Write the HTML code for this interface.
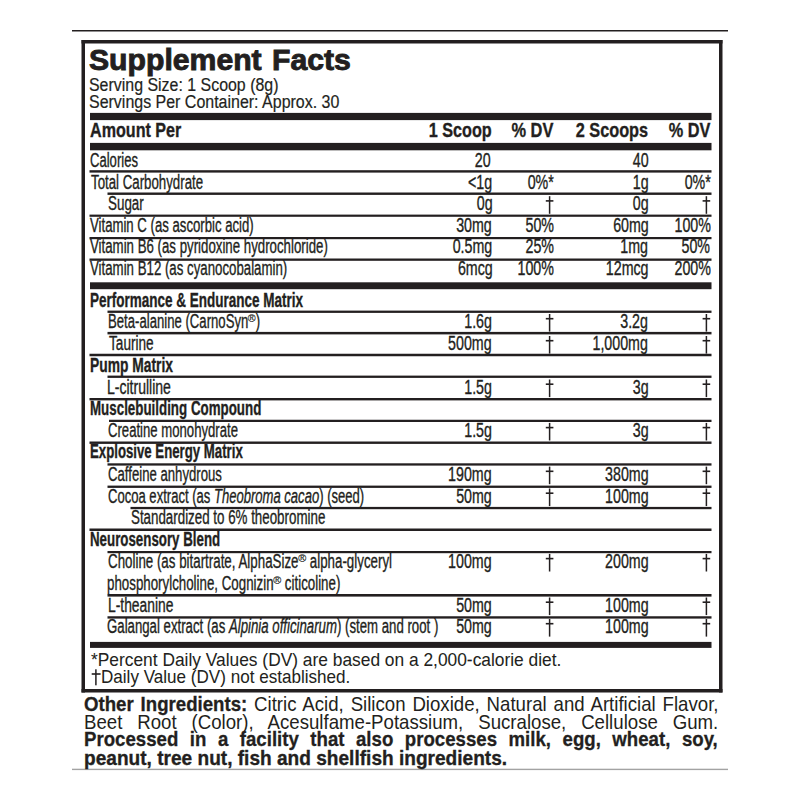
<!DOCTYPE html><html><head><meta charset="utf-8"><style>
html,body{margin:0;padding:0;background:#fff;width:800px;height:800px;overflow:hidden;position:relative}
.r{position:absolute;background:#231f20}
.t{position:absolute;white-space:nowrap;font-family:"Liberation Sans", sans-serif;color:#231f20;line-height:40px;height:40px;-webkit-text-stroke:0.35px #231f20}
.t sup{font-size:58%;vertical-align:0;position:relative;top:-0.5em;line-height:0;-webkit-text-stroke-width:0.2px;display:inline-block;transform:scaleX(1.4);margin:0 1.6px 0 1.2px}
.j{position:absolute;font-family:"Liberation Sans", sans-serif;color:#231f20;line-height:40px;height:40px;text-align:justify;text-align-last:justify;transform-origin:0 0;white-space:nowrap}
.j b{-webkit-text-stroke:0.3px #231f20}
</style></head><body>
<svg width="800" height="800" style="position:absolute;left:0;top:0">
<rect x="72" y="30" width="656" height="1.5" fill="#231f20"/>
<rect x="72" y="768.7" width="656" height="1.4" fill="#a3a3a3"/>
<rect x="81.5" y="40" width="641.0" height="3.5" fill="#231f20"/>
<rect x="81.5" y="689.0" width="641.0" height="3.5" fill="#231f20"/>
<rect x="81.5" y="40" width="3.5" height="652.5" fill="#231f20"/>
<rect x="719.0" y="40" width="3.5" height="652.5" fill="#231f20"/>
<rect x="90" y="112.9" width="621.5" height="7.2" fill="#231f20"/>
<rect x="90" y="142.9" width="621.5" height="7.4" fill="#231f20"/>
<rect x="90" y="282.3" width="621.5" height="6.9" fill="#231f20"/>
<rect x="90" y="641.9" width="621.5" height="6.0" fill="#231f20"/>
<rect x="89.5" y="170.2" width="622.0" height="2.4" fill="#231f20"/>
<rect x="107.5" y="192.5" width="604.0" height="2.4" fill="#231f20"/>
<rect x="89.5" y="214.6" width="622.0" height="2.2" fill="#231f20"/>
<rect x="89.5" y="237" width="622.0" height="2.2" fill="#231f20"/>
<rect x="89.5" y="258.5" width="622.0" height="2.3" fill="#231f20"/>
<rect x="107.5" y="310.6" width="604.0" height="2.3" fill="#231f20"/>
<rect x="107.5" y="331.9" width="604.0" height="2.5" fill="#231f20"/>
<rect x="89.5" y="353.75" width="622.0" height="2.5" fill="#231f20"/>
<rect x="107.5" y="375.6" width="604.0" height="2.3" fill="#231f20"/>
<rect x="89.5" y="398" width="622.0" height="2.4" fill="#231f20"/>
<rect x="109.0" y="419.75" width="602.5" height="2.25" fill="#231f20"/>
<rect x="89.5" y="441.5" width="622.0" height="2.4" fill="#231f20"/>
<rect x="107.5" y="463.3" width="604.0" height="2.3" fill="#231f20"/>
<rect x="107.5" y="485.6" width="604.0" height="2.3" fill="#231f20"/>
<rect x="130.5" y="506.9" width="581.0" height="2.3" fill="#231f20"/>
<rect x="89.5" y="528.5" width="622.0" height="2.5" fill="#231f20"/>
<rect x="107.5" y="551" width="604.0" height="2.2" fill="#231f20"/>
<rect x="107.5" y="594" width="604.0" height="2.6" fill="#231f20"/>
<rect x="107.5" y="616.25" width="604.0" height="2.35" fill="#231f20"/>
<rect x="548.85" y="196.2" width="1.5" height="17.6" fill="#231f20"/>
<rect x="545.8" y="200.1" width="7.6" height="1.6" fill="#231f20"/>
<rect x="705.65" y="196.2" width="1.5" height="17.6" fill="#231f20"/>
<rect x="702.6" y="200.1" width="7.6" height="1.6" fill="#231f20"/>
<rect x="548.85" y="314" width="1.5" height="17.6" fill="#231f20"/>
<rect x="545.8" y="317.9" width="7.6" height="1.6" fill="#231f20"/>
<rect x="705.65" y="314" width="1.5" height="17.6" fill="#231f20"/>
<rect x="702.6" y="317.9" width="7.6" height="1.6" fill="#231f20"/>
<rect x="548.85" y="336" width="1.5" height="17.6" fill="#231f20"/>
<rect x="545.8" y="339.9" width="7.6" height="1.6" fill="#231f20"/>
<rect x="705.65" y="336" width="1.5" height="17.6" fill="#231f20"/>
<rect x="702.6" y="339.9" width="7.6" height="1.6" fill="#231f20"/>
<rect x="548.85" y="379.5" width="1.5" height="17.6" fill="#231f20"/>
<rect x="545.8" y="383.4" width="7.6" height="1.6" fill="#231f20"/>
<rect x="705.65" y="379.5" width="1.5" height="17.6" fill="#231f20"/>
<rect x="702.6" y="383.4" width="7.6" height="1.6" fill="#231f20"/>
<rect x="548.85" y="422.9" width="1.5" height="17.6" fill="#231f20"/>
<rect x="545.8" y="426.8" width="7.6" height="1.6" fill="#231f20"/>
<rect x="705.65" y="422.9" width="1.5" height="17.6" fill="#231f20"/>
<rect x="702.6" y="426.8" width="7.6" height="1.6" fill="#231f20"/>
<rect x="548.85" y="466.6" width="1.5" height="17.6" fill="#231f20"/>
<rect x="545.8" y="470.5" width="7.6" height="1.6" fill="#231f20"/>
<rect x="705.65" y="466.6" width="1.5" height="17.6" fill="#231f20"/>
<rect x="702.6" y="470.5" width="7.6" height="1.6" fill="#231f20"/>
<rect x="548.85" y="488.5" width="1.5" height="17.6" fill="#231f20"/>
<rect x="545.8" y="492.4" width="7.6" height="1.6" fill="#231f20"/>
<rect x="705.65" y="488.5" width="1.5" height="17.6" fill="#231f20"/>
<rect x="702.6" y="492.4" width="7.6" height="1.6" fill="#231f20"/>
<rect x="548.85" y="553.9" width="1.5" height="17.6" fill="#231f20"/>
<rect x="545.8" y="557.8" width="7.6" height="1.6" fill="#231f20"/>
<rect x="705.65" y="553.9" width="1.5" height="17.6" fill="#231f20"/>
<rect x="702.6" y="557.8" width="7.6" height="1.6" fill="#231f20"/>
<rect x="548.85" y="597.5" width="1.5" height="17.6" fill="#231f20"/>
<rect x="545.8" y="601.4" width="7.6" height="1.6" fill="#231f20"/>
<rect x="705.65" y="597.5" width="1.5" height="17.6" fill="#231f20"/>
<rect x="702.6" y="601.4" width="7.6" height="1.6" fill="#231f20"/>
<rect x="548.85" y="619" width="1.5" height="17.6" fill="#231f20"/>
<rect x="545.8" y="622.9" width="7.6" height="1.6" fill="#231f20"/>
<rect x="705.65" y="619" width="1.5" height="17.6" fill="#231f20"/>
<rect x="702.6" y="622.9" width="7.6" height="1.6" fill="#231f20"/>
<rect x="95.15" y="669.3" width="1.5" height="16.0" fill="#231f20"/>
<rect x="91.7" y="673.2" width="8.9" height="1.6" fill="#231f20"/>
</svg>
<div class="t" style="left:88.96448598130851px;transform-origin:0 0;top:39.6px;font-size:29.6px;font-weight:700;-webkit-text-stroke-width:0.9px;transform:scaleX(1.0195)">Supplement</div>
<div class="t" style="left:271.7591005428718px;transform-origin:0 0;top:39.6px;font-size:29.6px;font-weight:700;-webkit-text-stroke-width:0.9px;transform:scaleX(1.0203)">Facts</div>
<div class="t" style="left:89.27848101265818px;transform-origin:0 0;top:65.2px;font-size:17.6px;font-weight:400;-webkit-text-stroke-width:0.2px;transform:scaleX(0.9053)">Serving Size: 1 Scoop (8g)</div>
<div class="t" style="left:89.27848101265818px;transform-origin:0 0;top:81.8px;font-size:17.6px;font-weight:400;-webkit-text-stroke-width:0.2px;transform:scaleX(0.9078)">Servings Per Container: Approx. 30</div>
<div class="t" style="left:89.95500894454379px;transform-origin:0 0;top:109.9px;font-size:20.5px;font-weight:700;-webkit-text-stroke-width:0.35px;transform:scaleX(0.786)">Amount Per</div>
<div class="t" style="right:308.21px;transform-origin:100% 0;top:109.9px;font-size:20.5px;font-weight:700;-webkit-text-stroke-width:0.35px;transform:scaleX(0.791)">1 Scoop</div>
<div class="t" style="right:246.33px;transform-origin:100% 0;top:109.9px;font-size:20.5px;font-weight:700;-webkit-text-stroke-width:0.35px;transform:scaleX(0.8011)">% DV</div>
<div class="t" style="right:151.79px;transform-origin:100% 0;top:109.9px;font-size:20.5px;font-weight:700;-webkit-text-stroke-width:0.35px;transform:scaleX(0.7952)">2 Scoops</div>
<div class="t" style="right:89.59px;transform-origin:100% 0;top:109.9px;font-size:20.5px;font-weight:700;-webkit-text-stroke-width:0.35px;transform:scaleX(0.7948)">% DV</div>
<div class="t" style="left:90.24134615384615px;transform-origin:0 0;top:139.6px;font-size:19.5px;font-weight:400;-webkit-text-stroke-width:0.35px;transform:scaleX(0.6703)">Calories</div>
<div class="t" style="right:308.93px;transform-origin:100% 0;top:139.6px;font-size:19.5px;font-weight:400;-webkit-text-stroke-width:0.35px;transform:scaleX(0.73)">20</div>
<div class="t" style="right:151.63px;transform-origin:100% 0;top:139.6px;font-size:19.5px;font-weight:400;-webkit-text-stroke-width:0.35px;transform:scaleX(0.73)">40</div>
<div class="t" style="left:90.5px;transform-origin:0 0;top:161.6px;font-size:19.5px;font-weight:400;-webkit-text-stroke-width:0.35px;transform:scaleX(0.6802)">Total Carbohydrate</div>
<div class="t" style="right:308.04px;transform-origin:100% 0;top:161.6px;font-size:19.5px;font-weight:400;-webkit-text-stroke-width:0.35px;transform:scaleX(0.73)">&lt;1g</div>
<div class="t" style="right:245.81px;transform-origin:100% 0;top:161.6px;font-size:19.5px;font-weight:400;-webkit-text-stroke-width:0.35px;transform:scaleX(0.73)">0%*</div>
<div class="t" style="right:151.5px;transform-origin:100% 0;top:161.6px;font-size:19.5px;font-weight:400;-webkit-text-stroke-width:0.35px;transform:scaleX(0.73)">1g</div>
<div class="t" style="right:89.31px;transform-origin:100% 0;top:161.6px;font-size:19.5px;font-weight:400;-webkit-text-stroke-width:0.35px;transform:scaleX(0.73)">0%*</div>
<div class="t" style="left:107.94824378887478px;transform-origin:0 0;top:183.2px;font-size:19.5px;font-weight:400;-webkit-text-stroke-width:0.35px;transform:scaleX(0.6869)">Sugar</div>
<div class="t" style="right:307.8px;transform-origin:100% 0;top:183.2px;font-size:19.5px;font-weight:400;-webkit-text-stroke-width:0.35px;transform:scaleX(0.73)">0g</div>
<div class="t" style="right:151.5px;transform-origin:100% 0;top:183.2px;font-size:19.5px;font-weight:400;-webkit-text-stroke-width:0.35px;transform:scaleX(0.73)">0g</div>
<div class="t" style="left:90.11538461538464px;transform-origin:0 0;top:204.8px;font-size:19.5px;font-weight:400;-webkit-text-stroke-width:0.35px;transform:scaleX(0.6756)">Vitamin C (as ascorbic acid)</div>
<div class="t" style="right:307.8px;transform-origin:100% 0;top:204.8px;font-size:19.5px;font-weight:400;-webkit-text-stroke-width:0.35px;transform:scaleX(0.73)">30mg</div>
<div class="t" style="right:246.08px;transform-origin:100% 0;top:204.8px;font-size:19.5px;font-weight:400;-webkit-text-stroke-width:0.35px;transform:scaleX(0.73)">50%</div>
<div class="t" style="right:151.5px;transform-origin:100% 0;top:204.8px;font-size:19.5px;font-weight:400;-webkit-text-stroke-width:0.35px;transform:scaleX(0.73)">60mg</div>
<div class="t" style="right:89.54px;transform-origin:100% 0;top:204.8px;font-size:19.5px;font-weight:400;-webkit-text-stroke-width:0.35px;transform:scaleX(0.73)">100%</div>
<div class="t" style="left:90.11538461538464px;transform-origin:0 0;top:226.2px;font-size:19.5px;font-weight:400;-webkit-text-stroke-width:0.35px;transform:scaleX(0.68)">Vitamin B6 (as pyridoxine hydrochloride)</div>
<div class="t" style="right:308.04px;transform-origin:100% 0;top:226.2px;font-size:19.5px;font-weight:400;-webkit-text-stroke-width:0.35px;transform:scaleX(0.73)">0.5mg</div>
<div class="t" style="right:246.08px;transform-origin:100% 0;top:226.2px;font-size:19.5px;font-weight:400;-webkit-text-stroke-width:0.35px;transform:scaleX(0.73)">25%</div>
<div class="t" style="right:152.01px;transform-origin:100% 0;top:226.2px;font-size:19.5px;font-weight:400;-webkit-text-stroke-width:0.35px;transform:scaleX(0.73)">1mg</div>
<div class="t" style="right:89.58px;transform-origin:100% 0;top:226.2px;font-size:19.5px;font-weight:400;-webkit-text-stroke-width:0.35px;transform:scaleX(0.73)">50%</div>
<div class="t" style="left:90.11887555120042px;transform-origin:0 0;top:248px;font-size:19.5px;font-weight:400;-webkit-text-stroke-width:0.35px;transform:scaleX(0.68)">Vitamin B12 (as cyanocobalamin)</div>
<div class="t" style="right:307.8px;transform-origin:100% 0;top:248px;font-size:19.5px;font-weight:400;-webkit-text-stroke-width:0.35px;transform:scaleX(0.73)">6mcg</div>
<div class="t" style="right:246.04px;transform-origin:100% 0;top:248px;font-size:19.5px;font-weight:400;-webkit-text-stroke-width:0.35px;transform:scaleX(0.73)">100%</div>
<div class="t" style="right:151.15px;transform-origin:100% 0;top:248px;font-size:19.5px;font-weight:400;-webkit-text-stroke-width:0.35px;transform:scaleX(0.73)">12mcg</div>
<div class="t" style="right:89.54px;transform-origin:100% 0;top:248px;font-size:19.5px;font-weight:400;-webkit-text-stroke-width:0.35px;transform:scaleX(0.73)">200%</div>
<div class="t" style="left:89.91930329178653px;transform-origin:0 0;top:279.9px;font-size:19.5px;font-weight:700;-webkit-text-stroke-width:0.35px;transform:scaleX(0.6919)">Performance &amp; Endurance Matrix</div>
<div class="t" style="left:107.84258540372673px;transform-origin:0 0;top:301px;font-size:19.5px;font-weight:400;-webkit-text-stroke-width:0.35px;transform:scaleX(0.6741)">Beta-alanine (CarnoSyn<sup>®</sup>)</div>
<div class="t" style="right:308.31px;transform-origin:100% 0;top:301px;font-size:19.5px;font-weight:400;-webkit-text-stroke-width:0.35px;transform:scaleX(0.73)">1.6g</div>
<div class="t" style="right:152.01px;transform-origin:100% 0;top:301px;font-size:19.5px;font-weight:400;-webkit-text-stroke-width:0.35px;transform:scaleX(0.73)">3.2g</div>
<div class="t" style="left:108.57419354838717px;transform-origin:0 0;top:323px;font-size:19.5px;font-weight:400;-webkit-text-stroke-width:0.35px;transform:scaleX(0.698)">Taurine</div>
<div class="t" style="right:308.8px;transform-origin:100% 0;top:323px;font-size:19.5px;font-weight:400;-webkit-text-stroke-width:0.35px;transform:scaleX(0.73)">500mg</div>
<div class="t" style="right:152.01px;transform-origin:100% 0;top:323px;font-size:19.5px;font-weight:400;-webkit-text-stroke-width:0.35px;transform:scaleX(0.73)">1,000mg</div>
<div class="t" style="left:89.77152317880791px;transform-origin:0 0;top:344.9px;font-size:19.5px;font-weight:700;-webkit-text-stroke-width:0.35px;transform:scaleX(0.7087)">Pump Matrix</div>
<div class="t" style="left:107.45353535353543px;transform-origin:0 0;top:366.5px;font-size:19.5px;font-weight:400;-webkit-text-stroke-width:0.35px;transform:scaleX(0.7193)">L-citrulline</div>
<div class="t" style="right:308.31px;transform-origin:100% 0;top:366.5px;font-size:19.5px;font-weight:400;-webkit-text-stroke-width:0.35px;transform:scaleX(0.73)">1.5g</div>
<div class="t" style="right:151.5px;transform-origin:100% 0;top:366.5px;font-size:19.5px;font-weight:400;-webkit-text-stroke-width:0.35px;transform:scaleX(0.73)">3g</div>
<div class="t" style="left:90.10000000000002px;transform-origin:0 0;top:388px;font-size:19.5px;font-weight:700;-webkit-text-stroke-width:0.35px;transform:scaleX(0.6847)">Musclebuilding Compound</div>
<div class="t" style="left:108.33228021978032px;transform-origin:0 0;top:409.9px;font-size:19.5px;font-weight:400;-webkit-text-stroke-width:0.35px;transform:scaleX(0.6735)">Creatine monohydrate</div>
<div class="t" style="right:308.31px;transform-origin:100% 0;top:409.9px;font-size:19.5px;font-weight:400;-webkit-text-stroke-width:0.35px;transform:scaleX(0.73)">1.5g</div>
<div class="t" style="right:151.5px;transform-origin:100% 0;top:409.9px;font-size:19.5px;font-weight:400;-webkit-text-stroke-width:0.35px;transform:scaleX(0.73)">3g</div>
<div class="t" style="left:90.08333333333337px;transform-origin:0 0;top:431.2px;font-size:19.5px;font-weight:700;-webkit-text-stroke-width:0.35px;transform:scaleX(0.6776)">Explosive Energy Matrix</div>
<div class="t" style="left:108.36341789052071px;transform-origin:0 0;top:453.6px;font-size:19.5px;font-weight:400;-webkit-text-stroke-width:0.35px;transform:scaleX(0.675)">Caffeine anhydrous</div>
<div class="t" style="right:308.8px;transform-origin:100% 0;top:453.6px;font-size:19.5px;font-weight:400;-webkit-text-stroke-width:0.35px;transform:scaleX(0.73)">190mg</div>
<div class="t" style="right:151.5px;transform-origin:100% 0;top:453.6px;font-size:19.5px;font-weight:400;-webkit-text-stroke-width:0.35px;transform:scaleX(0.73)">380mg</div>
<div class="t" style="left:108.34285714285718px;transform-origin:0 0;top:475.5px;font-size:19.5px;font-weight:400;-webkit-text-stroke-width:0.35px;transform:scaleX(0.6695)">Cocoa extract (as <i>Theobroma cacao</i>) (seed)</div>
<div class="t" style="right:307.8px;transform-origin:100% 0;top:475.5px;font-size:19.5px;font-weight:400;-webkit-text-stroke-width:0.35px;transform:scaleX(0.73)">50mg</div>
<div class="t" style="right:151.5px;transform-origin:100% 0;top:475.5px;font-size:19.5px;font-weight:400;-webkit-text-stroke-width:0.35px;transform:scaleX(0.73)">100mg</div>
<div class="t" style="left:131.38244274809168px;transform-origin:0 0;top:497px;font-size:19.5px;font-weight:400;-webkit-text-stroke-width:0.35px;transform:scaleX(0.6842)">Standardized to 6% theobromine</div>
<div class="t" style="left:90.10000000000002px;transform-origin:0 0;top:519.25px;font-size:19.5px;font-weight:700;-webkit-text-stroke-width:0.35px;transform:scaleX(0.6827)">Neurosensory Blend</div>
<div class="t" style="left:108.04869628198944px;transform-origin:0 0;top:540.9px;font-size:19.5px;font-weight:400;-webkit-text-stroke-width:0.35px;transform:scaleX(0.6838)">Choline (as bitartrate, AlphaSize<sup>®</sup> alpha-glyceryl</div>
<div class="t" style="right:308.8px;transform-origin:100% 0;top:540.9px;font-size:19.5px;font-weight:400;-webkit-text-stroke-width:0.35px;transform:scaleX(0.73)">100mg</div>
<div class="t" style="right:151.5px;transform-origin:100% 0;top:540.9px;font-size:19.5px;font-weight:400;-webkit-text-stroke-width:0.35px;transform:scaleX(0.73)">200mg</div>
<div class="t" style="left:107.10531258883476px;transform-origin:0 0;top:562.5px;font-size:19.5px;font-weight:400;-webkit-text-stroke-width:0.35px;transform:scaleX(0.6829)">phosphorylcholine, Cognizin<sup>®</sup> citicoline)</div>
<div class="t" style="left:107.5212864844767px;transform-origin:0 0;top:584.5px;font-size:19.5px;font-weight:400;-webkit-text-stroke-width:0.35px;transform:scaleX(0.7096)">L-theanine</div>
<div class="t" style="right:307.8px;transform-origin:100% 0;top:584.5px;font-size:19.5px;font-weight:400;-webkit-text-stroke-width:0.35px;transform:scaleX(0.73)">50mg</div>
<div class="t" style="right:151.5px;transform-origin:100% 0;top:584.5px;font-size:19.5px;font-weight:400;-webkit-text-stroke-width:0.35px;transform:scaleX(0.73)">100mg</div>
<div class="t" style="left:107.34285714285718px;transform-origin:0 0;top:606px;font-size:19.5px;font-weight:400;-webkit-text-stroke-width:0.35px;transform:scaleX(0.6778)">Galangal extract (as <i>Alpinia officinarum</i>) (stem and root )</div>
<div class="t" style="right:307.8px;transform-origin:100% 0;top:606px;font-size:19.5px;font-weight:400;-webkit-text-stroke-width:0.35px;transform:scaleX(0.73)">50mg</div>
<div class="t" style="right:151.5px;transform-origin:100% 0;top:606px;font-size:19.5px;font-weight:400;-webkit-text-stroke-width:0.35px;transform:scaleX(0.73)">100mg</div>
<div class="t" style="left:90.70000000000005px;transform-origin:0 0;top:639.8px;font-size:18.5px;font-weight:400;-webkit-text-stroke-width:0.05px;transform:scaleX(0.938)">*Percent Daily Values (DV) are based on a 2,000-calorie diet.</div>
<div class="t" style="left:100.90236220472441px;transform-origin:0 0;top:657px;font-size:18.5px;font-weight:400;-webkit-text-stroke-width:0.05px;transform:scaleX(0.9229)">Daily Value (DV) not established.</div>
<div class="t" style="left:84.31875907111753px;transform-origin:0 0;top:737.7px;font-size:20.6px;font-weight:400;-webkit-text-stroke-width:0.35px;transform:scaleX(0.9268)"><b>peanut, tree nut, fish and shellfish ingredients.</b></div>
<div class="j" style="left:84.3px;top:683.8px;width:701.1px;font-size:20.6px;font-weight:400;transform:scaleX(0.905)"><b>Other Ingredients:</b> Citric Acid, Silicon Dioxide, Natural and Artificial Flavor,</div>
<div class="j" style="left:84.3px;top:701.5px;width:700.88px;font-size:20.6px;font-weight:400;transform:scaleX(0.905)">Beet Root (Color), Acesulfame-Potassium, Sucralose, Cellulose Gum.</div>
<div class="j" style="left:84.3px;top:719.3px;width:700.33px;font-size:20.6px;font-weight:400;transform:scaleX(0.905)"><b>Processed in a facility that also processes milk, egg, wheat, soy,</b></div>
</body></html>
